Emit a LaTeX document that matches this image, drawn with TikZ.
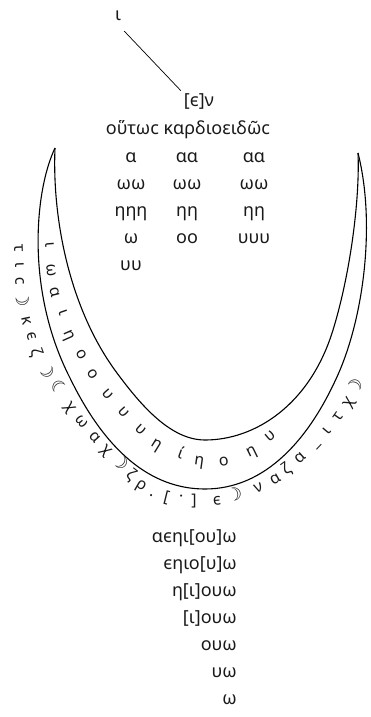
\documentclass[tikz,border=0pt]{standalone}
\usepackage{fontspec}
\setmainfont{Noto Sans}
\newfontfamily\symf{DejaVu Sans}
\newcommand{\moonR}{{\fontsize{18}{18}\selectfont\symf ☽}}
\newcommand{\moonL}{{\fontsize{18}{18}\selectfont\symf ☾}}
\begin{document}
\begin{tikzpicture}[x=1pt,y=-1pt,
  gk/.style={font=\fontsize{18}{18}\selectfont, inner sep=0pt, anchor=mid, text=black!90},
  ring/.style={font=\fontsize{16}{16}\selectfont, inner sep=0pt, anchor=mid, text=black!90},
  curve/.style={line width=1.1pt, line join=round}]
\useasboundingbox (0,0) rectangle (370,717);
% top
\node[gk, inner sep=2pt] (iota) at (118,18) {ι};
\node[gk, inner sep=3pt] (en) at (199,104) {[ϵ]ν};
\draw[line width=0.7pt] ([xshift=1pt,yshift=-8pt]iota.south east) -- (en.north west);
\node[gk] (title) at (188,132) {οὕτωϲ καρδιοειδῶϲ};
% columns
\foreach \t/\x/\y [count=\i] in {α/131/160, αα/187/160, αα/254/160,
  ωω/131/187, ωω/187/187, ωω/254/187,
  ηηη/131/214, ηη/187/214, ηη/254/214,
  ω/131/241, οο/187/241, υυυ/254/241,
  υυ/131/268}
  \node[gk] (c\i) at (\x,\y) {\t};
% curves
\draw[curve] (55,148) .. controls (35,190) and (25,290) .. (70,378)
  .. controls (105,450) and (150,489) .. (205,489)
  .. controls (265,489) and (310,440) .. (340,370)
  .. controls (365,310) and (375,220) .. (358,153);
\draw[curve] (55,148) .. controls (52,220) and (70,310) .. (117,373)
  .. controls (140,404) and (170,440) .. (205,440)
  .. controls (255,440) and (310,405) .. (333,330)
  .. controls (350,275) and (360,200) .. (358,153);
% inner ring text
\foreach \t/\x/\y/\a [count=\i] in {ι/48/245/-86, ω/50/271/-84, α/53/293/-76, ι/62/313/-71,
  η/68/336/-66, ο/80/355/-60, ο/91/375/-56, υ/107/395/-49, υ/123/413/-48, υ/140/431/-43,
  η/156/446/-32, ί/180/456/-20, η/199/463/-8, ο/224/463/8, η/252/453/26, υ/271/437/40}
  \node[ring, rotate=\a] (in\i) at (\x,\y) {\t};
% outer ring text
\foreach \t/\x/\y/\a [count=\i] in {τ/17/248/-88, ι/18/265/-88, ϲ/18/281/-87, \moonR/19/299/-85,
  κ/25/321/-78, ϵ/30/337/-74, ζ/34/353/-70, \moonR/44/372/-63, \moonL/56/390/-57,
  χ/69/408/-54, ω/81/423/-50, α/94/438/-48, χ/106/451/-45, \moonR/118/465/-42,
  ζ/130/477/-38, ρ/141/487/-30, ./152/494/-24, [/166/500/-14, ·/181/499/-5, ]/194/503/0,
  ϵ/217/502/5, \moonR/235/498/12, ν/259/489/22, α/276/481/30, ζ/288/471/36, α/301/459/42,
  \_/316/444/47, ι/328/432/50, τ/340/418/55, χ/350/403/60, \moonR/358/388/65}
  \node[ring, rotate=\a] (out\i) at (\x,\y) {\t};
% bottom lines
\foreach \t/\y [count=\i] in {αϵηι[ου]ω/540, ϵηιο[υ]ω/567, η[ι]ουω/594, [ι]ουω/621,
  ουω/648, υω/675, ω/702}
  \node[gk, anchor=mid east] (b\i) at (237,\y) {\t};
\end{tikzpicture}
\end{document}
